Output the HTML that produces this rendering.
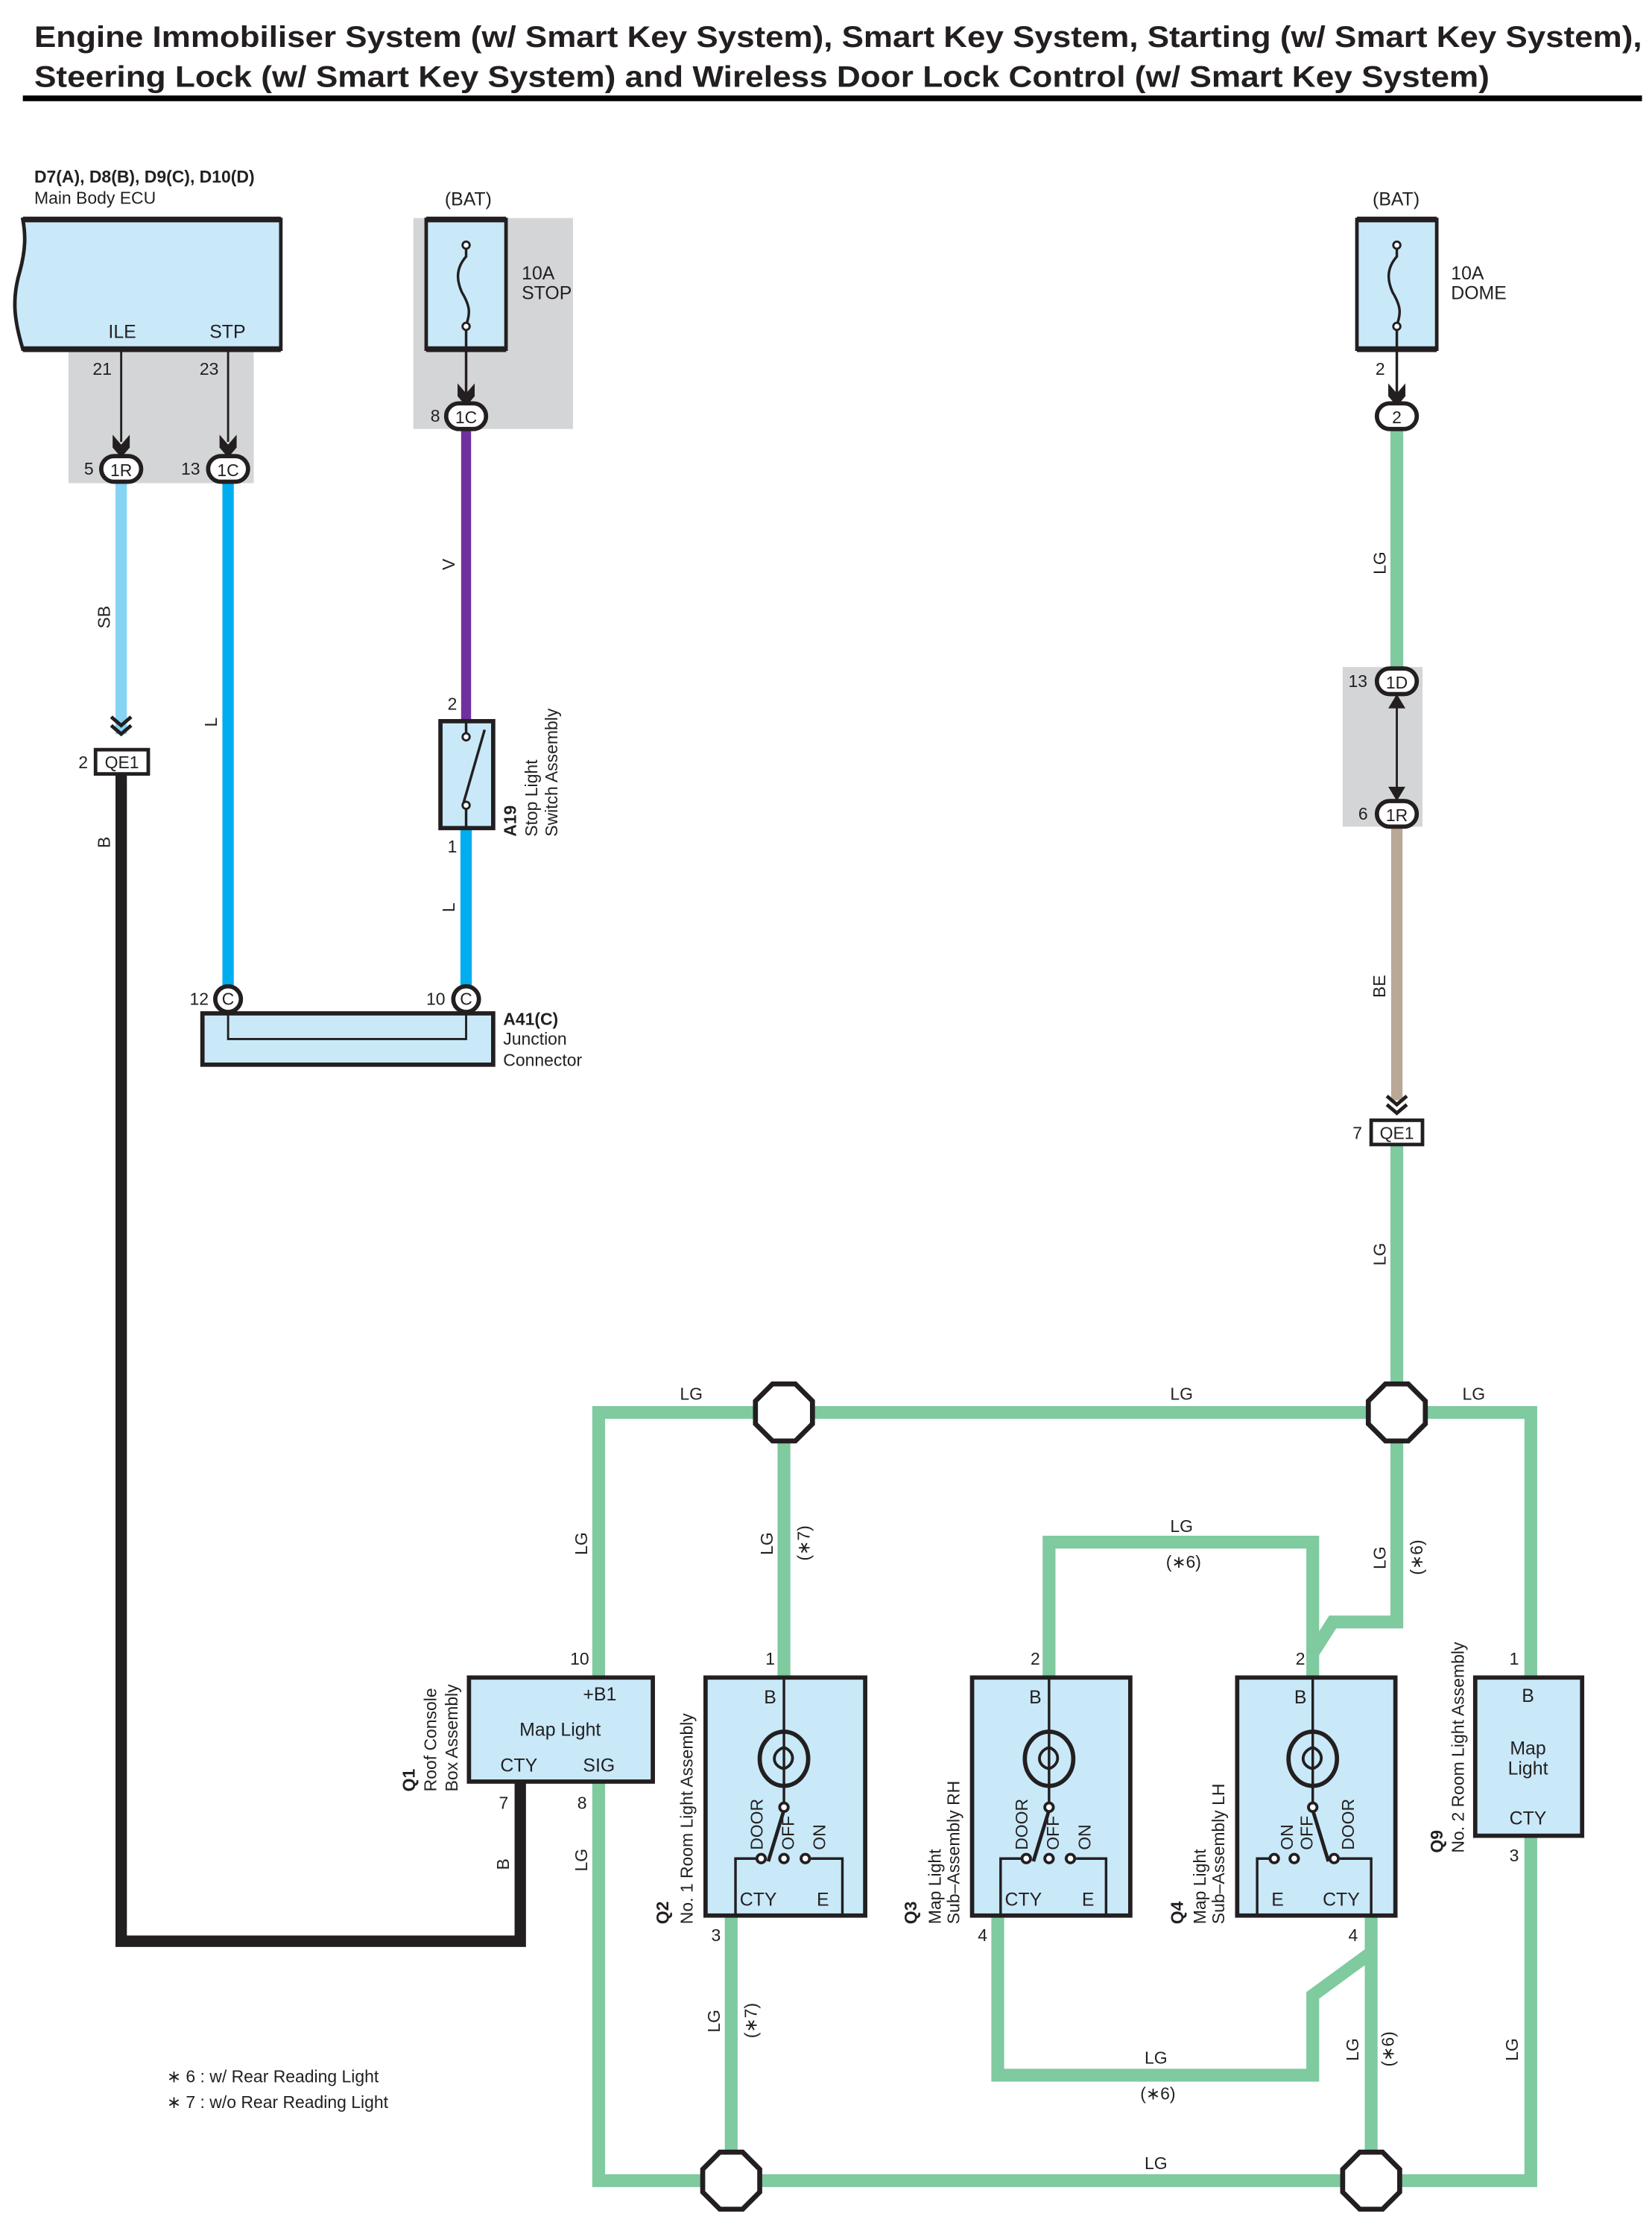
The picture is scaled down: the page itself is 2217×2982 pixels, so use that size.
<!DOCTYPE html>
<html><head><meta charset="utf-8"><style>
html,body{margin:0;padding:0;background:#fff;}
svg{display:block;}
text{font-family:"Liberation Sans",Arial,sans-serif;fill:#231f20;}
</style></head><body>
<svg width="2217" height="2982" viewBox="0 0 1159 1559" xmlns="http://www.w3.org/2000/svg">
<defs>
<g id="arr"><path d="M-6,-13 L0,-6 L6,-13 L6,-4 L0,3 L-6,-4 Z" fill="#231f20"/></g>
<g id="dchev"><path d="M-7,-12 L0,-6 L7,-12 M-7,-6 L0,0 L7,-6" stroke="#231f20" stroke-width="2.5" fill="none"/></g>
</defs>
<!-- title -->
<text x="24" y="33" font-size="21" font-weight="bold" textLength="1128" lengthAdjust="spacingAndGlyphs">Engine Immobiliser System (w/ Smart Key System), Smart Key System, Starting (w/ Smart Key System),</text>
<text x="24" y="61" font-size="21" font-weight="bold" textLength="1021" lengthAdjust="spacingAndGlyphs">Steering Lock (w/ Smart Key System) and Wireless Door Lock Control (w/ Smart Key System)</text>
<rect x="16" y="67" width="1136" height="4" fill="#000"/>

<!-- gray backgrounds -->
<rect x="48" y="246" width="130" height="93" fill="#d4d5d7"/>
<rect x="290" y="153" width="112" height="148" fill="#d4d5d7"/>
<rect x="942" y="468" width="56" height="112" fill="#d4d5d7"/>

<!-- wires colored -->
<g fill="none" stroke-linejoin="miter">
<line x1="85" y1="338" x2="85" y2="515" stroke="#86d3f3" stroke-width="8"/>
<line x1="160" y1="338" x2="160" y2="700" stroke="#00aeef" stroke-width="8"/>
<line x1="327" y1="300" x2="327" y2="506" stroke="#7030a0" stroke-width="7"/>
<line x1="327" y1="581" x2="327" y2="700" stroke="#00aeef" stroke-width="8"/>
<polyline points="85,543 85,1362 365,1362 365,1250" stroke="#231f20" stroke-width="8"/>
<line x1="980" y1="300" x2="980" y2="470" stroke="#7fca9f" stroke-width="9"/>
<line x1="980" y1="580" x2="980" y2="772" stroke="#b9a896" stroke-width="8"/>
<g stroke="#7fca9f" stroke-width="9">
<line x1="980" y1="803" x2="980" y2="991"/>
<polyline points="420,1177 420,991 1074,991 1074,1177"/>
<polyline points="420,1250 420,1530 1074,1530 1074,1288"/>
<line x1="550" y1="991" x2="550" y2="1177"/>
<line x1="513" y1="1344" x2="513" y2="1530"/>
<polyline points="736,1177 736,1082 921,1082 921,1177"/>
<polyline points="921,1160 935,1138 980,1138 980,991"/>
<polyline points="700,1344 700,1456 921,1456 921,1400 962,1370"/>
<line x1="962" y1="1344" x2="962" y2="1530"/>
</g>
</g>
<!-- octagons -->
<g fill="#fff" stroke="#231f20" stroke-width="3.5">
<path d="M542,971 L558,971 L570,983 L570,999 L558,1011 L542,1011 L530,999 L530,983 Z"/>
<path d="M972,971 L988,971 L1000,983 L1000,999 L988,1011 L972,1011 L960,999 L960,983 Z"/>
<path d="M505,1510 L521,1510 L533,1522 L533,1538 L521,1550 L505,1550 L493,1538 L493,1522 Z"/>
<path d="M954,1510 L970,1510 L982,1522 L982,1538 L970,1550 L954,1550 L942,1538 L942,1522 Z"/>
</g>

<!-- ECU -->
<text x="24" y="128" font-size="12" font-weight="bold">D7(A), D8(B), D9(C), D10(D)</text>
<text x="24" y="143" font-size="12">Main Body ECU</text>
<path d="M16,154 L197,154 L197,245 L16,245 C10,225 8,210 14,190 C18,175 18,165 16,154 Z" fill="#c9e9f9" stroke="#231f20" stroke-width="2.5"/>
<line x1="16" y1="154" x2="197" y2="154" stroke="#231f20" stroke-width="4"/>
<line x1="16" y1="245" x2="197" y2="245" stroke="#231f20" stroke-width="4"/>
<text x="76" y="237" font-size="13">ILE</text>
<text x="147" y="237" font-size="13">STP</text>
<line x1="85" y1="246" x2="85" y2="310" stroke="#231f20" stroke-width="1.5"/>
<line x1="160" y1="246" x2="160" y2="310" stroke="#231f20" stroke-width="1.5"/>
<use href="#arr" x="85" y="318"/><use href="#arr" x="160" y="318"/>
<text x="65" y="263" font-size="12">21</text><text x="140" y="263" font-size="12">23</text>
<text x="59" y="333" font-size="12">5</text><text x="127" y="333" font-size="12">13</text>

<!-- STOP fuse -->
<text x="312" y="144" font-size="13">(BAT)</text>
<rect x="299" y="154" width="56" height="91" fill="#c9e9f9" stroke="#231f20" stroke-width="2.5"/>
<line x1="299" y1="154" x2="355" y2="154" stroke="#231f20" stroke-width="4"/>
<line x1="299" y1="245" x2="355" y2="245" stroke="#231f20" stroke-width="4"/>
<path d="M327,170 L327,180 C320,188 320,196 324,205 C330,215 330,220 327,228 L327,246 L327,282" fill="none" stroke="#231f20" stroke-width="1.8"/>
<circle cx="327" cy="172" r="2.5" fill="#fff" stroke="#231f20" stroke-width="1.5"/>
<circle cx="327" cy="229" r="2.5" fill="#fff" stroke="#231f20" stroke-width="1.5"/>
<use href="#arr" x="327" y="282"/>
<text x="366" y="196" font-size="13">10A</text><text x="366" y="210" font-size="13">STOP</text>
<text x="302" y="296" font-size="12">8</text>

<!-- DOME fuse -->
<text x="963" y="144" font-size="13">(BAT)</text>
<rect x="952" y="154" width="56" height="91" fill="#c9e9f9" stroke="#231f20" stroke-width="2.5"/>
<line x1="952" y1="154" x2="1008" y2="154" stroke="#231f20" stroke-width="4"/>
<line x1="952" y1="245" x2="1008" y2="245" stroke="#231f20" stroke-width="4"/>
<path d="M980,170 L980,180 C973,188 973,196 977,205 C983,215 983,220 980,228 L980,282" fill="none" stroke="#231f20" stroke-width="1.8"/>
<circle cx="980" cy="172" r="2.5" fill="#fff" stroke="#231f20" stroke-width="1.5"/>
<circle cx="980" cy="229" r="2.5" fill="#fff" stroke="#231f20" stroke-width="1.5"/>
<use href="#arr" x="980" y="282"/>
<text x="1018" y="196" font-size="13">10A</text><text x="1018" y="210" font-size="13">DOME</text>
<text x="965" y="263" font-size="12">2</text>

<!-- connectors ovals -->
<g fill="#fff" stroke="#231f20" stroke-width="3">
<rect x="71" y="320" width="28" height="18" rx="9"/>
<rect x="146" y="320" width="28" height="18" rx="9"/>
<rect x="313" y="283" width="28" height="18" rx="9"/>
<rect x="966" y="283" width="28" height="18" rx="9"/>
<rect x="966" y="469" width="28" height="18" rx="9"/>
<rect x="966" y="562" width="28" height="18" rx="9"/>
<circle cx="160" cy="701" r="9"/>
<circle cx="327" cy="701" r="9"/>
</g>
<g font-size="12" text-anchor="middle">
<text x="85" y="334">1R</text><text x="160" y="334">1C</text><text x="327" y="297">1C</text>
<text x="980" y="297">2</text><text x="980" y="483">1D</text><text x="980" y="576">1R</text>
<text x="160" y="705">C</text><text x="327" y="705">C</text>
</g>
<text x="946" y="482" font-size="12">13</text><text x="953" y="575" font-size="12">6</text>
<line x1="980" y1="487" x2="980" y2="562" stroke="#231f20" stroke-width="1.5"/>
<path d="M974,497 L980,487 L986,497 Z M974,552 L980,562 L986,552 Z" fill="#231f20"/>

<!-- QE1 -->
<use href="#dchev" x="85" y="515"/>
<rect x="67" y="526" width="37" height="17" fill="#fff" stroke="#231f20" stroke-width="2.5"/>
<text x="85.5" y="539" font-size="12" text-anchor="middle">QE1</text>
<text x="55" y="539" font-size="12">2</text>
<use href="#dchev" x="980" y="781"/>
<rect x="962" y="786" width="36" height="17" fill="#fff" stroke="#231f20" stroke-width="2.5"/>
<text x="980" y="799" font-size="12" text-anchor="middle">QE1</text>
<text x="949" y="799" font-size="12">7</text>

<!-- A19 switch -->
<rect x="309" y="506" width="37" height="75" fill="#c9e9f9" stroke="#231f20" stroke-width="3"/>
<line x1="327" y1="506" x2="327" y2="514" stroke="#231f20" stroke-width="1.8"/>
<line x1="327" y1="566" x2="327" y2="581" stroke="#231f20" stroke-width="1.8"/>
<line x1="325" y1="564" x2="340" y2="512" stroke="#231f20" stroke-width="1.8"/>
<circle cx="327" cy="517" r="2.5" fill="#fff" stroke="#231f20" stroke-width="1.5"/>
<circle cx="327" cy="565" r="2.5" fill="#fff" stroke="#231f20" stroke-width="1.5"/>
<text x="314" y="498" font-size="12">2</text><text x="314" y="598" font-size="12">1</text>
<text transform="rotate(-90 362 587)" x="362" y="587" font-size="12" font-weight="bold">A19</text>
<text transform="rotate(-90 377 587)" x="377" y="587" font-size="12">Stop Light</text>
<text transform="rotate(-90 391 587)" x="391" y="587" font-size="12">Switch Assembly</text>

<!-- A41 junction -->
<rect x="142" y="711" width="204" height="36" fill="#c9e9f9" stroke="#231f20" stroke-width="3"/>
<polyline points="160,710 160,729 327,729 327,710" fill="none" stroke="#231f20" stroke-width="1.5"/>
<text x="133" y="705" font-size="12">12</text><text x="299" y="705" font-size="12">10</text>
<text x="353" y="719" font-size="12" font-weight="bold">A41(C)</text>
<text x="353" y="733" font-size="12">Junction</text>
<text x="353" y="748" font-size="12">Connector</text>

<!-- Q1 -->
<rect x="329" y="1177" width="129" height="73" fill="#c9e9f9" stroke="#231f20" stroke-width="3"/>
<text x="409" y="1193" font-size="13">+B1</text>
<text x="393" y="1218" font-size="13" text-anchor="middle">Map Light</text>
<text x="351" y="1243" font-size="13">CTY</text><text x="409" y="1243" font-size="13">SIG</text>
<text x="400" y="1168" font-size="12">10</text><text x="350" y="1269" font-size="12">7</text><text x="405" y="1269" font-size="12">8</text>
<text transform="rotate(-90 291 1257)" x="291" y="1257" font-size="12" font-weight="bold">Q1</text>
<text transform="rotate(-90 306 1257)" x="306" y="1257" font-size="12">Roof Console</text>
<text transform="rotate(-90 321 1257)" x="321" y="1257" font-size="12">Box Assembly</text>

<!-- Q2 -->
<rect x="495" y="1177" width="112" height="167" fill="#c9e9f9" stroke="#231f20" stroke-width="3"/>
<text x="536" y="1195" font-size="13">B</text>
<g stroke="#231f20" fill="none">
<line x1="550" y1="1177" x2="550" y2="1266" stroke-width="1.8"/>
<ellipse cx="550" cy="1234" rx="17" ry="19" stroke-width="3"/>
<path d="M550,1226 C558,1229 558,1238 550,1241 C541,1239 541,1229 550,1226" stroke-width="2"/>
<line x1="550" y1="1270" x2="539" y2="1306" stroke-width="2.5"/>
<polyline points="531,1304 516,1304 516,1344" stroke-width="1.8"/>
<polyline points="569,1304 591,1304 591,1344" stroke-width="1.8"/>
<circle cx="550" cy="1268" r="3" fill="#fff" stroke-width="2"/>
<circle cx="534" cy="1304" r="3" fill="#fff" stroke-width="2"/>
<circle cx="550" cy="1304" r="3" fill="#fff" stroke-width="2"/>
<circle cx="565" cy="1304" r="3" fill="#fff" stroke-width="2"/>
</g>
<text x="519" y="1337" font-size="13">CTY</text><text x="573" y="1337" font-size="13">E</text>
<text transform="rotate(-90 535 1298)" x="535" y="1298" font-size="12">DOOR</text>
<text transform="rotate(-90 557 1298)" x="557" y="1298" font-size="12">OFF</text>
<text transform="rotate(-90 579 1298)" x="579" y="1298" font-size="12">ON</text>
<text x="537" y="1168" font-size="12">1</text><text x="499" y="1362" font-size="12">3</text>
<text transform="rotate(-90 469 1350)" x="469" y="1350" font-size="12" font-weight="bold">Q2</text>
<text transform="rotate(-90 486 1350)" x="486" y="1350" font-size="12">No. 1 Room Light Assembly</text>

<!-- Q3 -->
<rect x="682" y="1177" width="111" height="167" fill="#c9e9f9" stroke="#231f20" stroke-width="3"/>
<text x="722" y="1195" font-size="13">B</text>
<g stroke="#231f20" fill="none">
<line x1="736" y1="1177" x2="736" y2="1266" stroke-width="1.8"/>
<ellipse cx="736" cy="1234" rx="17" ry="19" stroke-width="3"/>
<path d="M736,1226 C744,1229 744,1238 736,1241 C727,1239 727,1229 736,1226" stroke-width="2"/>
<line x1="736" y1="1270" x2="725" y2="1306" stroke-width="2.5"/>
<polyline points="717,1304 702,1304 702,1344" stroke-width="1.8"/>
<polyline points="755,1304 776,1304 776,1344" stroke-width="1.8"/>
<circle cx="736" cy="1268" r="3" fill="#fff" stroke-width="2"/>
<circle cx="720" cy="1304" r="3" fill="#fff" stroke-width="2"/>
<circle cx="736" cy="1304" r="3" fill="#fff" stroke-width="2"/>
<circle cx="751" cy="1304" r="3" fill="#fff" stroke-width="2"/>
</g>
<text x="705" y="1337" font-size="13">CTY</text><text x="759" y="1337" font-size="13">E</text>
<text transform="rotate(-90 721 1298)" x="721" y="1298" font-size="12">DOOR</text>
<text transform="rotate(-90 743 1298)" x="743" y="1298" font-size="12">OFF</text>
<text transform="rotate(-90 765 1298)" x="765" y="1298" font-size="12">ON</text>
<text x="723" y="1168" font-size="12">2</text><text x="686" y="1362" font-size="12">4</text>
<text transform="rotate(-90 643 1350)" x="643" y="1350" font-size="12" font-weight="bold">Q3</text>
<text transform="rotate(-90 660 1350)" x="660" y="1350" font-size="12">Map Light</text>
<text transform="rotate(-90 673 1350)" x="673" y="1350" font-size="12">Sub–Assembly RH</text>

<!-- Q4 -->
<rect x="868" y="1177" width="111" height="167" fill="#c9e9f9" stroke="#231f20" stroke-width="3"/>
<text x="908" y="1195" font-size="13">B</text>
<g stroke="#231f20" fill="none">
<line x1="921" y1="1177" x2="921" y2="1266" stroke-width="1.8"/>
<ellipse cx="921" cy="1234" rx="17" ry="19" stroke-width="3"/>
<path d="M921,1226 C929,1229 929,1238 921,1241 C912,1239 912,1229 921,1226" stroke-width="2"/>
<line x1="921" y1="1270" x2="932" y2="1306" stroke-width="2.5"/>
<polyline points="891,1304 882,1304 882,1344" stroke-width="1.8"/>
<polyline points="940,1304 962,1304 962,1344" stroke-width="1.8"/>
<circle cx="921" cy="1268" r="3" fill="#fff" stroke-width="2"/>
<circle cx="894" cy="1304" r="3" fill="#fff" stroke-width="2"/>
<circle cx="908" cy="1304" r="3" fill="#fff" stroke-width="2"/>
<circle cx="936" cy="1304" r="3" fill="#fff" stroke-width="2"/>
</g>
<text x="892" y="1337" font-size="13">E</text><text x="928" y="1337" font-size="13">CTY</text>
<text transform="rotate(-90 907 1298)" x="907" y="1298" font-size="12">ON</text>
<text transform="rotate(-90 921 1298)" x="921" y="1298" font-size="12">OFF</text>
<text transform="rotate(-90 950 1298)" x="950" y="1298" font-size="12">DOOR</text>
<text x="909" y="1168" font-size="12">2</text><text x="946" y="1362" font-size="12">4</text>
<text transform="rotate(-90 830 1350)" x="830" y="1350" font-size="12" font-weight="bold">Q4</text>
<text transform="rotate(-90 846 1350)" x="846" y="1350" font-size="12">Map Light</text>
<text transform="rotate(-90 859 1350)" x="859" y="1350" font-size="12">Sub–Assembly LH</text>

<!-- Q9 -->
<rect x="1035" y="1177" width="75" height="111" fill="#c9e9f9" stroke="#231f20" stroke-width="3"/>
<text x="1072" y="1194" font-size="13" text-anchor="middle">B</text>
<text x="1072" y="1231" font-size="13" text-anchor="middle">Map</text>
<text x="1072" y="1245" font-size="13" text-anchor="middle">Light</text>
<text x="1072" y="1280" font-size="13" text-anchor="middle">CTY</text>
<text x="1059" y="1168" font-size="12">1</text><text x="1059" y="1306" font-size="12">3</text>
<text transform="rotate(-90 1012 1300)" x="1012" y="1300" font-size="12" font-weight="bold">Q9</text>
<text transform="rotate(-90 1027 1300)" x="1027" y="1300" font-size="12">No. 2 Room Light Assembly</text>

<!-- wire labels (rotated) -->
<g font-size="12">
<text transform="rotate(-90 77 441)" x="77" y="441">SB</text>
<text transform="rotate(-90 152 510)" x="152" y="510">L</text>
<text transform="rotate(-90 319 400)" x="319" y="400">V</text>
<text transform="rotate(-90 319 640)" x="319" y="640">L</text>
<text transform="rotate(-90 77 595)" x="77" y="595">B</text>
<text transform="rotate(-90 357 1312)" x="357" y="1312">B</text>
<text transform="rotate(-90 972 403)" x="972" y="403">LG</text>
<text transform="rotate(-90 972 700)" x="972" y="700">BE</text>
<text transform="rotate(-90 972 888)" x="972" y="888">LG</text>
<text transform="rotate(-90 412 1091)" x="412" y="1091">LG</text>
<text transform="rotate(-90 412 1313)" x="412" y="1313">LG</text>
<text transform="rotate(-90 542 1091)" x="542" y="1091">LG</text>
<text transform="rotate(-90 568 1095)" x="568" y="1095">(∗7)</text>
<text transform="rotate(-90 505 1426)" x="505" y="1426">LG</text>
<text transform="rotate(-90 531 1430)" x="531" y="1430">(∗7)</text>
<text transform="rotate(-90 972 1101)" x="972" y="1101">LG</text>
<text transform="rotate(-90 998 1105)" x="998" y="1105">(∗6)</text>
<text transform="rotate(-90 953 1446)" x="953" y="1446">LG</text>
<text transform="rotate(-90 978 1450)" x="978" y="1450">(∗6)</text>
<text transform="rotate(-90 1065 1446)" x="1065" y="1446">LG</text>
<text x="477" y="982">LG</text><text x="821" y="982">LG</text><text x="1026" y="982">LG</text>
<text x="821" y="1075">LG</text><text x="818" y="1100">(∗6)</text>
<text x="803" y="1448">LG</text><text x="800" y="1473">(∗6)</text>
<text x="803" y="1522">LG</text>
<text x="117" y="1461">∗ 6 : w/ Rear Reading Light</text>
<text x="117" y="1479">∗ 7 : w/o Rear Reading Light</text>
</g>
</svg>
</body></html>
